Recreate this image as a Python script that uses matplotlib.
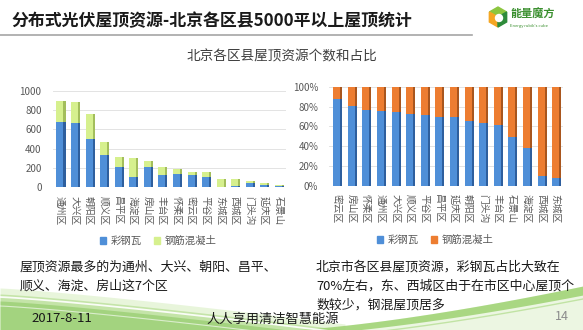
import matplotlib
matplotlib.use("Agg")
import matplotlib.pyplot as plt
import matplotlib.patches as mpatches
from matplotlib.ticker import FuncFormatter
import numpy as np

plt.rcParams["font.family"] = ["Noto Sans CJK SC", "DejaVu Sans"]

# ── data ─────────────────────────────────────────────────────────────────────
count_districts = ["通州区", "大兴区", "朝阳区", "顺义区", "昌平区", "海淀区", "房山区", "丰台区",
                   "怀柔区", "密云区", "平谷区", "东城区", "西城区", "门头沟", "延庆区", "石景山"]
count_steel = [672, 662, 497, 331, 210, 110, 210, 128, 141, 131, 103, 7, 10, 41, 28, 12]
count_concrete = [221, 224, 258, 135, 107, 193, 59, 86, 49, 31, 52, 76, 73, 25, 13, 12]

ratio_districts = ["密云区", "房山区", "怀柔区", "通州区", "大兴区", "顺义区", "平谷区", "昌平区",
                   "延庆区", "朝阳区", "门头沟", "丰台区", "石景山", "海淀区", "西城区", "东城区"]
ratio_steel = [87.2, 80.5, 76.2, 75.2, 74.8, 72.5, 71.5, 69.5, 69.1, 65.8, 63.1, 61.4,
               49.7, 37.9, 9.7, 8.4]
ratio_concrete = [100 - v for v in ratio_steel]

BLUE, BLUE_SIDE = "#4F8FD8", "#2E5F9E"
GREEN, GREEN_SIDE = "#D6F08E", "#A3BE5C"
ORANGE, ORANGE_SIDE = "#ED7D31", "#A9561E"
GRAY_TXT = "#595959"

W, H = 583, 330
fig = plt.figure(figsize=(W / 100, H / 100), dpi=100)
fig.patch.set_facecolor("white")


def fx(x):
    return x / W


def fy(y):
    return 1 - y / H


# ── background decoration (pixel coords) ────────────────────────────────────
bg = fig.add_axes([0, 0, 1, 1], zorder=0)
bg.set_xlim(0, W)
bg.set_ylim(H, 0)
bg.axis("off")

# left swoosh: wide band sweeping down to the bottom edge
xl = np.linspace(0, 345, 200)
sl = xl / 345
edge_l = 294 + 36 * sl ** 1.2
bg.fill_between(xl, edge_l - 6, H, color="#D9EFC4", alpha=0.6, lw=0)
bg.fill_between(xl, edge_l, H, color="#A8D77E", alpha=0.55, lw=0)
bg.fill_between(xl, edge_l + 7, H, color="#7CC04E", alpha=0.45, lw=0)
bg.plot(xl, edge_l + 3, color="white", lw=1.3, alpha=0.9)
bg.plot(xl, edge_l + 12, color="white", lw=0.8, alpha=0.6)

# right swoosh: thin band rising towards the right edge
xr = np.linspace(285, W, 200)
sr = (xr - 285) / (W - 285)
edge_r = 330 - 44 * sr ** 1.4
bg.fill_between(xr, edge_r, H, color="#E4F3D6", alpha=0.7, lw=0)
bg.fill_between(xr, edge_r, edge_r + 5 + 4 * sr, color="#8DCB5A", alpha=0.7, lw=0)
bg.plot(xr, edge_r + 9 + 4 * sr, color="#B7DF95", lw=1.0, alpha=0.8)

# title and rule
bg.plot([0, 472], [35, 35], color="#A6A6A6", lw=1.2)
fig.text(fx(11), fy(21), "分布式光伏屋顶资源-北京各区县5000平以上屋顶统计",
         fontsize=12.2, fontweight="bold", color="#1A1A1A", va="center", ha="left")

# logo: small cube
cx, cy, r = 498, 17, 10
ang = np.deg2rad([90, 150, 210, 270, 330, 30])
hx = cx + r * np.cos(ang)
hy = cy - r * np.sin(ang)
top = [(cx, cy), (hx[5], hy[5]), (hx[0], hy[0]), (hx[1], hy[1])]
left = [(cx, cy), (hx[1], hy[1]), (hx[2], hy[2]), (hx[3], hy[3])]
right = [(cx, cy), (hx[3], hy[3]), (hx[4], hy[4]), (hx[5], hy[5])]
bg.add_patch(mpatches.Polygon(top, color="#8CC63F"))
bg.add_patch(mpatches.Polygon(left, color="#F5A623"))
bg.add_patch(mpatches.Polygon(right, color="#2E8B3A"))
bg.add_patch(mpatches.Circle((cx + 1, cy + 1), 3.5, color="white"))
fig.text(fx(510), fy(14), "能量魔方", fontsize=8, fontweight="bold", color="#3A8F2E",
         va="center", ha="left")
fig.text(fx(510), fy(26), "Energy rubik's cube", fontsize=3, color="#3A8F2E",
         va="center", ha="left")

fig.text(fx(282), fy(56), "北京各区县屋顶资源个数和占比", fontsize=9.8, color="#404040",
         ha="center", va="center")


def draw_3d_stack(ax, x, bottom, heights, face, side):
    w, sw = 0.48, 0.14
    ax.bar(x, heights, width=w, bottom=bottom, color=face, zorder=3)
    ax.bar(x + w / 2 + sw / 2, heights, width=sw, bottom=bottom, color=side, zorder=3)


def style_axes(ax):
    for s in ax.spines.values():
        s.set_visible(False)
    ax.tick_params(axis="both", length=0, colors=GRAY_TXT)
    ax.grid(axis="y", color="#E3E3E3", lw=0.7, zorder=0)
    ax.set_axisbelow(True)
    ax.set_facecolor("none")


# ── left: counts ─────────────────────────────────────────────────────────────
ax1 = fig.add_axes([fx(52.7), fy(187.3), fx(233), (187.3 - 90.7) / H])
x1 = np.arange(len(count_districts))
draw_3d_stack(ax1, x1, 0, count_steel, BLUE, BLUE_SIDE)
draw_3d_stack(ax1, x1, count_steel, count_concrete, GREEN, GREEN_SIDE)
ax1.set_xlim(-0.5, len(count_districts) - 0.5)
ax1.set_ylim(0, 1000)
ax1.set_yticks(range(0, 1001, 200))
ax1.set_xticks(x1)
ax1.set_xticklabels(count_districts, rotation=270, fontsize=7, color=GRAY_TXT)
ax1.tick_params(axis="y", labelsize=7, pad=8)
ax1.tick_params(axis="x", pad=6)
style_axes(ax1)
ax1.legend(handles=[mpatches.Patch(color=BLUE, label="彩钢瓦"),
                    mpatches.Patch(color=GREEN, label="钢筋混凝土")],
           loc="center", bbox_to_anchor=(fx(158), fy(241)), bbox_transform=fig.transFigure,
           ncol=2, frameon=False, fontsize=7.5, handlelength=0.6, handleheight=0.6,
           handletextpad=0.4, columnspacing=1.2, labelcolor=GRAY_TXT)

# ── right: share ─────────────────────────────────────────────────────────────
ax2 = fig.add_axes([fx(329.4), fy(186), fx(233.6), (186 - 86.7) / H])
x2 = np.arange(len(ratio_districts))
draw_3d_stack(ax2, x2, 0, ratio_steel, BLUE, BLUE_SIDE)
draw_3d_stack(ax2, x2, ratio_steel, ratio_concrete, ORANGE, ORANGE_SIDE)
ax2.set_xlim(-0.5, len(ratio_districts) - 0.5)
ax2.set_ylim(0, 100)
ax2.set_yticks(range(0, 101, 20))
ax2.yaxis.set_major_formatter(FuncFormatter(lambda v, _: f"{v:.0f}%"))
ax2.set_xticks(x2)
ax2.set_xticklabels(ratio_districts, rotation=270, fontsize=7, color=GRAY_TXT)
ax2.tick_params(axis="y", labelsize=7, pad=8)
ax2.tick_params(axis="x", pad=6)
style_axes(ax2)
ax2.legend(handles=[mpatches.Patch(color=BLUE, label="彩钢瓦"),
                    mpatches.Patch(color=ORANGE, label="钢筋混凝土")],
           loc="center", bbox_to_anchor=(fx(435), fy(240)), bbox_transform=fig.transFigure,
           ncol=2, frameon=False, fontsize=7.5, handlelength=0.6, handleheight=0.6,
           handletextpad=0.4, columnspacing=1.2, labelcolor=GRAY_TXT)

# ── notes and footer ─────────────────────────────────────────────────────────
note_kw = dict(fontsize=9.3, color="#1A1A1A", ha="left", va="center")
fig.text(fx(20), fy(267), "屋顶资源最多的为通州、大兴、朝阳、昌平、", **note_kw)
fig.text(fx(20), fy(286), "顺义、海淀、房山这7个区", **note_kw)
fig.text(fx(316), fy(267), "北京市各区县屋顶资源，彩钢瓦占比大致在", **note_kw)
fig.text(fx(316), fy(286), "70%左右，东、西城区由于在市区中心屋顶个", **note_kw)
fig.text(fx(316), fy(305), "数较少，钢混屋顶居多", **note_kw)

fig.text(fx(31), fy(319), "2017-8-11", fontsize=9.5, color="#1A1A1A", ha="left", va="center")
fig.text(fx(273), fy(319), "人人享用清洁智慧能源", fontsize=9.5, color="#1A1A1A",
         ha="center", va="center")
fig.text(fx(562), fy(317), "14", fontsize=9, color="#8C8C8C", ha="center", va="center")

fig.savefig("out.png", dpi=100)
